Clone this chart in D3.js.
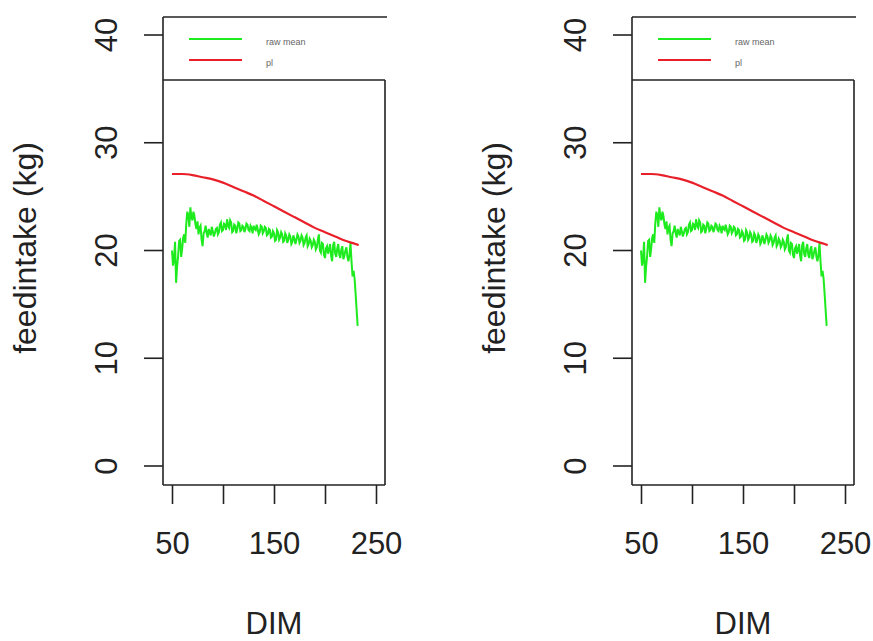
<!DOCTYPE html>
<html>
<head>
<meta charset="utf-8">
<script src="https://cdn.jsdelivr.net/npm/d3@7"></script>
<style>
  body { margin: 0; background: #fff; }
  svg { display: block; font-family: "Liberation Sans", Arial, sans-serif; }
</style>
</head>
<body>
<div id="chart"></div>
<script>
// raw daily mean feed intake, DIM 50..232
var rawDim = d3.range(50, 233, 1);
var rawMean = [20.0, 18.6, 19.2, 20.8, 17.0, 18.5, 19.5, 20.9, 21.0, 19.4,
  20.2, 21.2, 21.5, 20.7, 22.5, 23.6, 23.3, 22.2, 24.0, 23.1,
  22.8, 23.6, 23.2, 22.4, 22.0, 22.7, 21.5, 22.1, 22.3, 21.0,
  20.4, 21.6, 21.8, 22.3, 21.6, 21.2, 22.0, 21.7, 21.4, 22.2,
  21.8, 21.3, 21.6, 22.0, 22.1, 21.5, 21.7, 22.4, 22.6, 21.8,
  21.9, 22.5, 22.4, 21.9, 22.9, 22.3, 22.1, 22.8, 22.6, 21.7,
  21.8, 22.4, 22.3, 21.6, 22.0, 22.6, 22.5, 21.8, 21.9, 22.3,
  22.2, 21.7, 22.0, 22.5, 22.4, 21.9, 21.8, 22.3, 22.1, 21.6,
  22.3, 22.0, 21.9, 22.4, 22.0, 21.5, 21.7, 22.3, 22.2, 21.6,
  21.8, 22.2, 22.1, 21.4, 21.5, 22.0, 21.9, 21.2, 21.3, 21.8,
  21.6, 20.9, 21.0, 21.9, 21.7, 21.0, 21.2, 21.7, 21.5, 20.8,
  20.9, 21.6, 21.4, 20.7, 21.0, 21.5, 21.3, 20.6, 20.8, 21.4,
  21.1, 20.6, 21.0, 21.5, 21.3, 20.7, 20.9, 21.4, 21.2, 20.5,
  20.7, 21.2, 21.4, 20.4, 20.6, 21.1, 20.9, 20.3, 20.5, 21.0,
  20.8, 20.1, 20.3, 21.0, 21.5, 20.0, 19.8, 20.7, 20.6, 19.6,
  19.3, 20.2, 20.4, 19.7, 20.1, 20.6, 19.5, 19.0, 20.5, 20.8,
  19.7, 19.4, 20.2, 20.6, 19.6, 19.3, 20.1, 20.4, 19.2, 19.5,
  20.0, 20.3, 19.4, 19.0, 19.6, 20.7, 19.0, 17.6, 18.1, 17.4,
  16.0, 14.5, 13.0];

// fitted curve
var plDim = [50, 60, 70, 80, 90, 100, 110, 120, 130, 140, 150, 160, 170, 180, 190, 200, 210, 220, 230, 233];
var plVal = [27.1, 27.1, 27.0, 26.8, 26.6, 26.3, 25.9, 25.5, 25.1, 24.6,
  24.1, 23.6, 23.1, 22.6, 22.1, 21.7, 21.3, 20.9, 20.6, 20.5];

var xTicks = [50, 100, 150, 200, 250];
var xLabels = [50, 150, 250];
var yTicks = [0, 10, 20, 30, 40];
var legendNames = ["raw mean", "pl"];
var legendColors = ["#1eeb1e", "#e8202a"];

var width = 873, height = 641;
var svg = d3.select("#chart").append("svg")
  .attr("width", width)
  .attr("height", height);

function panel(offset) {
  var left = 163, right = 385, top = 17, bottom = 485, legBottom = 80;
  var g = svg.append("g").attr("transform", "translate(" + offset + ",0)");

  var x = d3.scaleLinear().domain([50, 250]).range([172, 376]);
  var y = d3.scaleLinear().domain([0, 40]).range([466, 35]);

  // frame
  var frame = [
    [left, top, right + 2, top],
    [left, top, left, bottom],
    [left, bottom, right, bottom],
    [right, legBottom, right, bottom],
    [left, legBottom, right, legBottom]
  ];
  g.selectAll("line.frame").data(frame).enter().append("line")
    .attr("class", "frame")
    .attr("x1", function (d) { return d[0]; })
    .attr("y1", function (d) { return d[1]; })
    .attr("x2", function (d) { return d[2]; })
    .attr("y2", function (d) { return d[3]; })
    .attr("stroke", "#222")
    .attr("stroke-width", 1.6);

  // x axis
  var xAxis = g.append("g")
    .attr("transform", "translate(0," + bottom + ")")
    .call(d3.axisBottom(x).tickValues(xTicks).tickSize(19).tickPadding(28)
      .tickFormat(function (d) { return xLabels.indexOf(d) >= 0 ? d : ""; }));
  xAxis.select(".domain").remove();
  xAxis.selectAll("line").attr("stroke", "#222").attr("stroke-width", 1.6);
  xAxis.selectAll("text").attr("font-size", 31).attr("fill", "#222")
    .attr("font-family", "Liberation Sans, Arial, sans-serif");

  // y axis
  g.selectAll("line.ytick").data(yTicks).enter().append("line")
    .attr("class", "ytick")
    .attr("x1", left - 19).attr("x2", left)
    .attr("y1", function (d) { return y(d); })
    .attr("y2", function (d) { return y(d); })
    .attr("stroke", "#222").attr("stroke-width", 1.6);
  g.selectAll("text.ylab").data(yTicks).enter().append("text")
    .attr("class", "ylab")
    .attr("transform", function (d) { return "translate(117," + y(d) + ") rotate(-90)"; })
    .attr("text-anchor", "middle")
    .attr("font-size", 31)
    .attr("fill", "#222")
    .text(function (d) { return d; });

  // axis titles
  g.append("text")
    .attr("x", 274).attr("y", 634)
    .attr("text-anchor", "middle")
    .attr("font-size", 31).attr("fill", "#222")
    .text("DIM");
  g.append("text")
    .attr("transform", "translate(36,248) rotate(-90)")
    .attr("text-anchor", "middle")
    .attr("font-size", 32).attr("fill", "#222")
    .text("feedintake (kg)");

  // series
  var rawLine = d3.line()
    .x(function (d, i) { return x(rawDim[i]); })
    .y(function (d) { return y(d); });
  var plLine = d3.line()
    .curve(d3.curveMonotoneX)
    .x(function (d, i) { return x(plDim[i]); })
    .y(function (d) { return y(d); });

  g.append("path").datum(rawMean)
    .attr("d", rawLine)
    .attr("fill", "none")
    .attr("stroke", legendColors[0])
    .attr("stroke-width", 2);
  g.append("path").datum(plVal)
    .attr("d", plLine)
    .attr("fill", "none")
    .attr("stroke", legendColors[1])
    .attr("stroke-width", 2.2);

  // legend
  var leg = g.selectAll("g.leg").data(legendNames).enter().append("g")
    .attr("class", "leg")
    .attr("transform", function (d, i) { return "translate(0," + (39 + i * 21) + ")"; });
  leg.append("line")
    .attr("x1", 189).attr("x2", 242)
    .attr("stroke", function (d, i) { return legendColors[i]; })
    .attr("stroke-width", 2);
  leg.append("text")
    .attr("x", 266).attr("y", 6)
    .attr("font-size", 9).attr("fill", "#666")
    .text(function (d) { return d; });
}

panel(0);
panel(469);
</script>
</body>
</html>
